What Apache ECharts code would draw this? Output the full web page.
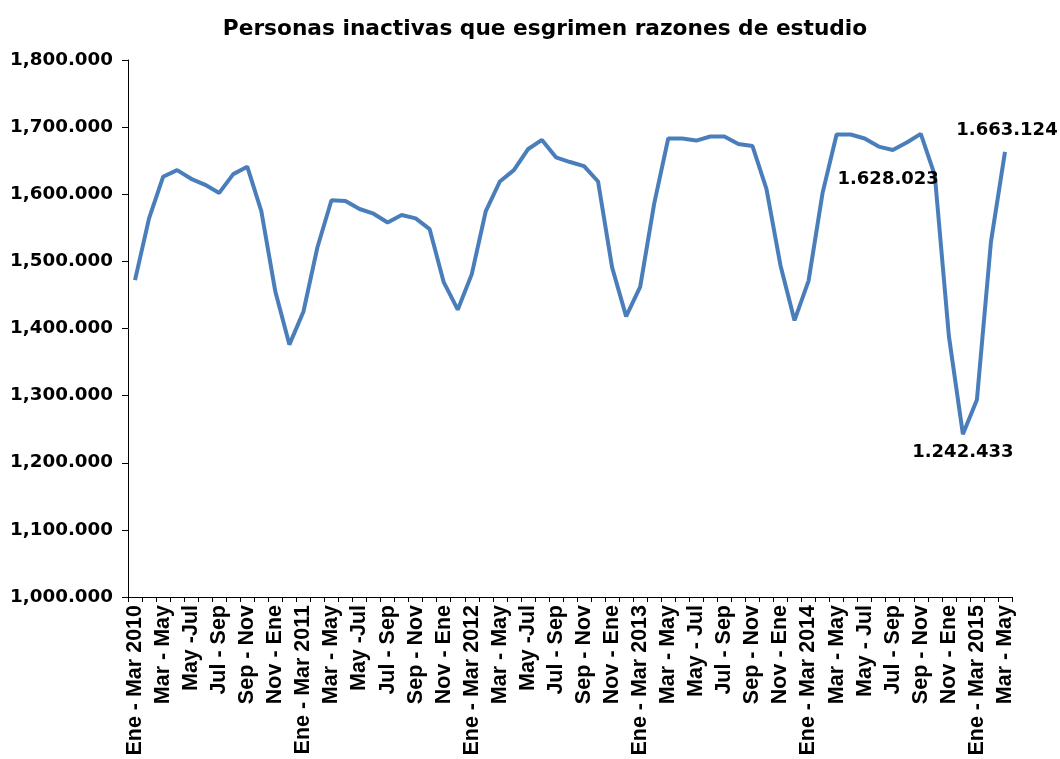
<!DOCTYPE html>
<html>
<head>
<meta charset="utf-8">
<script src="https://cdn.jsdelivr.net/npm/echarts@6/dist/echarts.min.js"></script>
<style>
  html, body { margin: 0; padding: 0; background: #fff; }
  #chart { width: 1060px; height: 759px; }
</style>
</head>
<body>
<div id="chart"></div>
<script>
// trimestres móviles
const categories = [
  'Ene - Mar 2010', 'Feb - Abr', 'Mar - May', 'Abr - Jun', 'May -Jul', 'Jun - Ago',
  'Jul - Sep', 'Ago - Oct', 'Sep - Nov', 'Oct - Dic', 'Nov - Ene', 'Dic - Feb',
  'Ene - Mar 2011', 'Feb - Abr', 'Mar - May', 'Abr - Jun', 'May -Jul', 'Jun - Ago',
  'Jul - Sep', 'Ago - Oct', 'Sep - Nov', 'Oct - Dic', 'Nov - Ene', 'Dic - Feb',
  'Ene - Mar 2012', 'Feb - Abr', 'Mar - May', 'Abr - Jun', 'May -Jul', 'Jun - Ago',
  'Jul - Sep', 'Ago - Oct', 'Sep - Nov', 'Oct - Dic', 'Nov - Ene', 'Dic - Feb',
  'Ene - Mar 2013', 'Feb - Abr', 'Mar - May', 'Abr - Jun', 'May - Jul', 'Jun - Ago',
  'Jul - Sep', 'Ago - Oct', 'Sep - Nov', 'Oct - Dic', 'Nov - Ene', 'Dic - Feb',
  'Ene - Mar 2014', 'Feb - Abr', 'Mar - May', 'Abr - Jun', 'May - Jul', 'Jun - Ago',
  'Jul - Sep', 'Ago - Oct', 'Sep - Nov', 'Oct - Dic', 'Nov - Ene', 'Dic - Feb',
  'Ene - Mar 2015', 'Feb - Abr', 'Mar - May'
];

// personas
const inactivos = [
  1472000, 1564000, 1626000, 1636000, 1623000, 1614000, 1602000, 1630000, 1641000, 1575000, 1455000, 1376000,
  1425000, 1521000, 1591000, 1590000, 1578000, 1571000, 1558000, 1569000, 1564000, 1548000, 1469000, 1428000,
  1481000, 1575000, 1619000, 1636000, 1667000, 1681000, 1655000, 1648000, 1642000, 1619000, 1491000, 1418000,
  1462000, 1586000, 1683000, 1683000, 1680000, 1686000, 1686000, 1675000, 1672000, 1608000, 1494000, 1412000,
  1471000, 1602000, 1689000, 1689000, 1683000, 1671000, 1666000, 1677000, 1690000, 1628023, 1389000, 1242433,
  1294000, 1529000, 1663124
];

const yTicks = [1000000, 1100000, 1200000, 1300000, 1400000, 1500000, 1600000, 1700000, 1800000];

// puntos con etiqueta de valor
const labeled = {
  57: { position: 'left', distance: 0, offset: [4, 4] },
  59: { position: 'bottom', distance: 9 },
  62: { position: 'top', distance: 13, offset: [2, 0] }
};

const fmtDots = v => String(v).replace(/\B(?=(\d{3})+(?!\d))/g, '.');
const fmtAxis = v => {
  let k = Math.round(v / 1000);
  return Math.floor(k / 1000) + ',' + String(k % 1000).padStart(3, '0') + '.000';
};

const seriesData = inactivos.map((v, i) => {
  if (!labeled[i]) return v;
  return {
    value: v,
    label: Object.assign({
      show: true,
      formatter: p => fmtDots(p.value),
      color: '#000',
      fontWeight: 'bold',
      fontSize: 18,
      fontFamily: 'DejaVu Sans'
    }, labeled[i])
  };
});

const chart = echarts.init(document.getElementById('chart'), null, { renderer: 'canvas' });
chart.setOption({
  backgroundColor: '#ffffff',
  animation: false,
  title: {
    text: 'Personas inactivas que esgrimen razones de estudio',
    left: 540,
    textAlign: 'center',
    top: 13,
    textStyle: {
      fontFamily: 'DejaVu Sans',
      fontWeight: 'bold',
      fontSize: 21.7,
      color: '#000'
    }
  },
  grid: {
    left: 128,
    right: 48,
    top: 60,
    bottom: 162,
    containLabel: false
  },
  xAxis: {
    type: 'category',
    data: categories,
    boundaryGap: true,
    axisLine: { lineStyle: { color: '#000', width: 1 } },
    axisTick: { show: true, interval: 0, length: 5, lineStyle: { color: '#000' } },
    axisLabel: {
      interval: 1,
      rotate: 90,
      margin: 8,
      color: '#000',
      fontFamily: 'Liberation Sans',
      fontWeight: 'bold',
      fontSize: 21.5
    },
    splitLine: { show: false }
  },
  yAxis: {
    type: 'value',
    min: yTicks[0],
    max: yTicks[yTicks.length - 1],
    interval: yTicks[1] - yTicks[0],
    axisLine: { show: true, lineStyle: { color: '#000', width: 1 } },
    axisTick: { show: true, length: 6, lineStyle: { color: '#000' } },
    axisLabel: {
      formatter: fmtAxis,
      margin: 15,
      color: '#000',
      fontFamily: 'DejaVu Sans',
      fontWeight: 'bold',
      fontSize: 18.3
    },
    splitLine: { show: false }
  },
  series: [{
    type: 'line',
    data: seriesData,
    showSymbol: true,
    symbol: 'circle',
    symbolSize: 0,
    lineStyle: { color: '#4A7EBB', width: 4 },
    itemStyle: { color: '#4A7EBB' }
  }]
});
</script>
</body>
</html>
